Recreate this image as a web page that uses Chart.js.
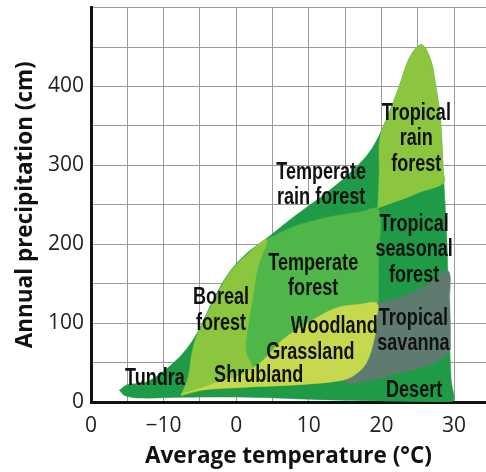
<!DOCTYPE html>
<html>
<head>
<meta charset="utf-8">
<script src="https://cdn.jsdelivr.net/npm/chart.js@4.4.1/dist/chart.umd.min.js"></script>
<style>
  html, body { margin: 0; padding: 0; background: #fff; }
  #wrap { width: 486px; height: 472px; }
</style>
</head>
<body>
<div id="wrap"><canvas id="biomeChart"></canvas></div>
<script>
// ====== DATA: biome outlines as [temperature °C, precipitation cm] ======
const outline = [
  [-16.1, 15], [-15.0, 22], [-12.8, 24], [-10.9, 33], [-9.1, 46], [-7.3, 62], [-5.4, 87],
  [-3.2, 129], [-0.9, 165], [1.5, 189], [4.4, 209], [7.8, 234], [12.4, 265], [16.1, 294],
  [18.8, 323], [21.2, 370], [22.6, 404], [23.9, 437], [25.5, 453], [26.8, 433], [27.5, 399],
  [28.1, 361], [28.5, 294], [29.0, 209], [29.3, 104], [29.6, 28], [29.9, 1], [28.1, 0],
  [22.6, 1], [11.5, 3], [1.9, 6], [-7.7, 6], [-13.2, 5], [-15.3, 8], [-16.1, 15]
];
const temperateForest = [
  [4.4, 207], [7.8, 222], [12.5, 234], [17.1, 241], [19.6, 244], [19.6, 180], [19.6, 123],
  [19.6, 80], [8.8, 38], [1.0, 28], [1.0, 130], [3.0, 190], [4.4, 207]
];
const borealForest = [
  [-7.6, 8], [-6.6, 32], [-6.1, 62], [-5.3, 87], [-3.1, 128], [-0.9, 164], [1.5, 187],
  [4.2, 206], [3.0, 171], [2.2, 129], [1.6, 95], [1.3, 66], [2.2, 38], [-2.2, 22], [-7.6, 8]
];
const tropicalRainForest = [
  [19.5, 246], [19.7, 290], [19.8, 335], [21.2, 370], [22.6, 404], [23.9, 437], [25.5, 453],
  [26.8, 433], [27.5, 399], [28.1, 361], [28.5, 294], [28.6, 278], [25.3, 266], [22.6, 256],
  [19.5, 246]
];
const tropicalSavanna = [
  [19.4, 125], [23.0, 134], [26.7, 151], [29.2, 166], [29.4, 129], [29.5, 75], [29.3, 63],
  [27.1, 49], [22.6, 37], [18.4, 28], [15.0, 26], [17.0, 80], [19.4, 125]
];
const woodlandShrubland = [
  [-7.6, 10], [-5.0, 17], [-2.6, 25], [0.9, 35], [3.7, 53], [6.4, 79], [10.2, 102],
  [13.7, 119], [17.1, 124], [19.4, 125], [19.3, 104], [19.1, 84], [17.9, 49], [16.1, 33],
  [14.3, 27], [8.8, 22], [1.9, 19], [-5.0, 15], [-7.6, 10]
];

// biome names and where they sit (first line)
const labelText = [
  ['Tropical', 'rain', 'forest'], ['Temperate', 'rain forest'], ['Tropical', 'seasonal', 'forest'],
  ['Temperate', 'forest'], ['Boreal', 'forest'], ['Woodland'], ['Grassland'], ['Shrubland'],
  ['Tropical', 'savanna'], ['Desert'], ['Tundra']
];
const labelTemp = [24.8, 11.7, 24.5, 10.6, -2.1, 13.5, 10.2, 3.1, 24.4, 24.5, -11.2];
const labelPrecip = [366, 291, 225, 176, 132, 95, 63, 34, 106, 15, 30];

// tick labels
const xTickLabels = { '-20': '0', '-10': '\u221210', '0': '0', '10': '10', '20': '20', '30': '30' };
const yTickLabels = { 0: '0', 100: '100', 200: '200', 300: '300', 400: '400' };

// ====== COLOURS ======
const DARK = '#1f9b47';
const LIGHT = '#8cc63f';
const MEDIUM = '#4fb74a';
const PALE = '#c6d94e';
const GREY = '#5f7b6f';

function toPoints(arr) {
  return arr.map(p => ({ x: p[0], y: p[1] }));
}

function region(data, color, order) {
  return {
    data: toPoints(data),
    showLine: true,
    fill: 'shape',
    backgroundColor: color,
    borderColor: color,
    borderWidth: 0.5,
    pointRadius: 0,
    pointHoverRadius: 0,
    tension: 0.35,
    order: order
  };
}

const labelFont = 'bold 23px "Liberation Sans", Arial, sans-serif';

// draws the biome names on top of the filled areas (narrowed like a condensed face)
const biomeLabels = {
  id: 'biomeLabels',
  afterDatasetsDraw(chart) {
    const { ctx, scales } = chart;
    ctx.save();
    ctx.font = labelFont;
    ctx.fillStyle = '#111';
    ctx.textAlign = 'center';
    ctx.textBaseline = 'middle';
    labelText.forEach((lines, i) => {
      const x = scales.x.getPixelForValue(labelTemp[i]);
      const y = scales.y.getPixelForValue(labelPrecip[i]);
      lines.forEach((line, j) => {
        ctx.save();
        ctx.translate(x, y + j * 25.5);
        ctx.scale(0.785, 1);
        ctx.fillText(line, 0, 0);
        ctx.restore();
      });
    });
    ctx.restore();
  }
};

const tickFamily = '"Open Sans", sans-serif';

document.addEventListener('DOMContentLoaded', () => {
  const ctx = document.getElementById('biomeChart').getContext('2d');
  new Chart(ctx, {
    type: 'scatter',
    data: {
      datasets: [
        region(outline, DARK, 6),
        region(temperateForest, MEDIUM, 5),
        region(borealForest, LIGHT, 4),
        region(tropicalRainForest, LIGHT, 3),
        region(tropicalSavanna, GREY, 2),
        region(woodlandShrubland, PALE, 1)
      ]
    },
    options: {
      responsive: true,
      maintainAspectRatio: false,
      animation: false,
      events: [],
      layout: { padding: { top: 7, right: 0, bottom: 0, left: 0 } },
      plugins: { legend: { display: false }, tooltip: { enabled: false } },
      scales: {
        x: {
          type: 'linear',
          min: -20,
          max: 34.4,
          ticks: {
            stepSize: 5,
            includeBounds: false,
            autoSkip: false,
            maxRotation: 0,
            padding: 11,
            color: '#222',
            font: { family: tickFamily, size: 21 },
            callback: v => xTickLabels[String(v)] || ''
          },
          grid: { color: '#9a9a9a', lineWidth: 1, drawTicks: false },
          border: { color: '#111', width: 3 },
          title: {
            display: true,
            text: 'Average temperature (\u00b0C)',
            color: '#111',
            font: { family: tickFamily, size: 22.5, weight: 'bold' },
            padding: { top: 0, bottom: 2 }
          },
          afterFit(scale) { scale.height = 70; }
        },
        y: {
          type: 'linear',
          min: 0,
          max: 500,
          ticks: {
            stepSize: 50,
            autoSkip: false,
            padding: 7,
            color: '#222',
            // the unlabelled top tick gets a tiny font so it adds no top padding
            font: c => ({ family: tickFamily, size: (c.tick && c.tick.value === 500) ? 1 : 21 }),
            callback: v => yTickLabels[v] || ''
          },
          grid: { color: '#9a9a9a', lineWidth: 1, drawTicks: false },
          border: { color: '#111', width: 3 },
          title: {
            display: true,
            text: 'Annual precipitation (cm)',
            color: '#111',
            font: { family: tickFamily, size: 22.5, weight: 'bold' },
            padding: { top: 12, bottom: 0 }
          },
          afterFit(scale) { scale.width = 91; }
        }
      }
    },
    plugins: [biomeLabels]
  });
});
</script>
</body>
</html>
